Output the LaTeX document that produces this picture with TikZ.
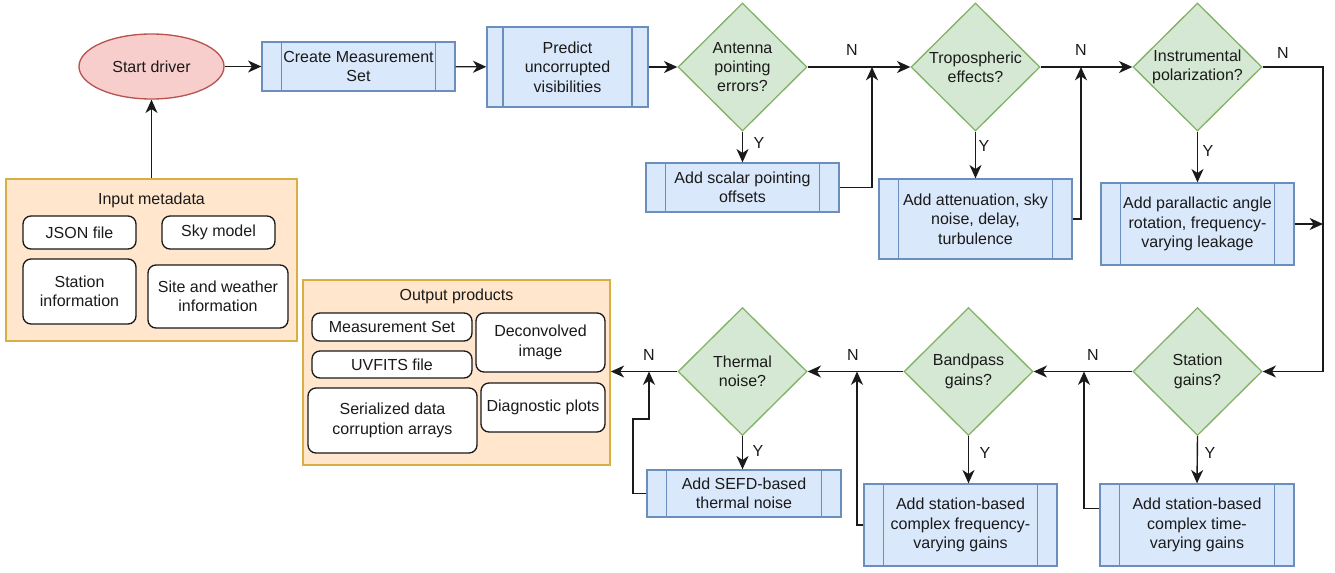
\documentclass[tikz,border=0pt]{standalone}
\usepackage{fontspec}
\setmainfont{Liberation Sans}
\usetikzlibrary{shapes.geometric,arrows.meta,calc}
\newdimen\pxu \pxu=0.75pt
\definecolor{procF}{HTML}{DAE8FC}
\definecolor{procS}{HTML}{6C8EBF}
\definecolor{diaF}{HTML}{D5E8D4}
\definecolor{diaS}{HTML}{82B366}
\definecolor{ellF}{HTML}{F8CECC}
\definecolor{ellS}{HTML}{B85450}
\definecolor{conF}{HTML}{FFE6CC}
\definecolor{conS}{HTML}{D9AE45}
\definecolor{lineC}{HTML}{1A1A1A}
\begin{document}
\begin{tikzpicture}[x=0.75pt,y=-0.75pt,
  every node/.style={font=\fontsize{12}{14.5}\selectfont, text=lineC},
  proc/.style={draw=procS, fill=procF, line width=1pt, inner sep=0pt, align=center,
    path picture={
      \coordinate (ppnw) at (path picture bounding box.north west);
      \coordinate (ppse) at (path picture bounding box.south east);
      \draw[draw=procS, line width=1pt]
        ($(ppnw)!0.1!(ppnw -| ppse)$) -- ($(ppnw |- ppse)!0.1!(ppse)$)
        ($(ppnw)!0.9!(ppnw -| ppse)$) -- ($(ppnw |- ppse)!0.9!(ppse)$);
    }},
  dia/.style={shape=diamond, draw=diaS, fill=diaF, line width=1pt, inner sep=0pt,
    minimum width=129\pxu, minimum height=128\pxu, align=center},
  ell/.style={shape=ellipse, draw=ellS, fill=ellF, line width=1pt, inner sep=0pt,
    minimum width=145\pxu, minimum height=65\pxu},
  cont/.style={draw=conS, fill=conF, line width=1.2pt, inner sep=0pt},
  item/.style={draw=lineC, fill=white, line width=1pt, rounded corners=6pt, inner sep=0pt, align=center},
  arr/.style={draw=lineC, line width=1.05pt, -{Stealth[length=10pt,width=9pt,inset=3pt]}},
  lab/.style={inner sep=0pt}
]
\useasboundingbox (0,0) rectangle (1335,572);

% containers
\node[cont, minimum width=291\pxu, minimum height=162\pxu] (inc) at (151.5,260) {};
\node[lab] (inct) at (151.5,200) {Input metadata};
\node[item, minimum width=113\pxu, minimum height=33\pxu] (json) at (79.5,232.5) {JSON file};
\node[item, minimum width=113\pxu, minimum height=33\pxu] (sky) at (218.5,232.5) {Sky model};
\node[item, minimum width=113\pxu, minimum height=65\pxu] (stinf) at (79.5,291.5) {Station\\information};
\node[item, minimum width=140\pxu, minimum height=63\pxu] (site) at (218,296.5) {Site and weather\\information};

\node[cont, minimum width=307\pxu, minimum height=185\pxu] (outc) at (456.5,372.5) {};
\node[lab] (outct) at (456.5,296) {Output products};
\node[item, minimum width=160\pxu, minimum height=28\pxu] (ms) at (392,327) {Measurement Set};
\node[item, minimum width=160\pxu, minimum height=27\pxu] (uvf) at (392,364.5) {UVFITS file};
\node[item, minimum width=169\pxu, minimum height=65\pxu] (ser) at (392.5,420.5) {Serialized data\\corruption arrays};
\node[item, minimum width=129\pxu, minimum height=59\pxu] (dec) at (540.5,342.5) {Deconvolved\\image};
\node[item, minimum width=124\pxu, minimum height=49\pxu] (diag) at (543,407.5) {Diagnostic plots};

% top row
\node[ell] (start) at (151.5,66.5) {Start driver};
\node[proc, minimum width=193\pxu, minimum height=49\pxu] (cms) at (358.5,66.5) {Create Measurement\\Set};
\node[proc, minimum width=161\pxu, minimum height=80\pxu] (pred) at (567.5,67) {Predict\\uncorrupted\\visibilities};
\node[dia] (d1) at (742.5,67) {Antenna\\pointing\\errors?};
\node[dia] (d2) at (975.5,67) {Tropospheric\\effects?};
\node[dia] (d3) at (1197.5,67) {Instrumental\\polarization?};
\node[proc, minimum width=193\pxu, minimum height=49\pxu] (p1) at (742.5,187.5) {Add scalar pointing\\offsets};
\node[proc, minimum width=193\pxu, minimum height=80\pxu] (p2) at (975.5,219) {Add attenuation, sky\\noise, delay,\\turbulence};
\node[proc, minimum width=193\pxu, minimum height=82\pxu] (p3) at (1197.5,224) {Add parallactic angle\\rotation, frequency-\\varying leakage};

% bottom row
\node[dia] (d4) at (1197.5,371.5) {Station\\gains?};
\node[dia] (d5) at (968.5,371.5) {Bandpass\\gains?};
\node[dia] (d6) at (742.5,371.5) {Thermal\\noise?};
\node[proc, minimum width=194\pxu, minimum height=82\pxu] (p4) at (1197,525) {Add station-based\\complex time-\\varying gains};
\node[proc, minimum width=193\pxu, minimum height=82\pxu] (p5) at (960.5,525) {Add station-based\\complex frequency-\\varying gains};
\node[proc, minimum width=194\pxu, minimum height=47\pxu] (p6) at (744,493.5) {Add SEFD-based\\thermal noise};

% junction coordinates
\coordinate (j1) at (872,67);
\coordinate (j2) at (1081,67);
\coordinate (rc) at (1323,224);
\coordinate (j4) at (1084,371.5);
\coordinate (j5) at (857,371.5);
\coordinate (j6) at (649,371.5);
\coordinate (k6) at (633,419);

% connectors top
\draw[arr] (inc.north) -- (start.south);
\draw[arr] (start) -- (cms);
\draw[arr] (cms) -- (pred);
\draw[arr] (pred.east) -- (d1.west);
\draw[arr] (d1.east) -- (d2.west);
\draw[arr] (d2.east) -- (d3.west);
\draw[arr] (d1.south) -- (p1.north);
\draw[arr] (d2.south) -- (p2.north);
\draw[arr] (d3.south) -- (p3.north);
\draw[arr] (p1.east) -| (j1);
\draw[arr] (p2.east) -| (j2);
\draw[arr] (d3.east) -| (rc) |- (d4.east);
\draw[arr] (p3.east) -- (rc);

% connectors bottom
\draw[arr] (d4.west) -- (d5.east);
\draw[arr] (d5.west) -- (d6.east);
\draw[arr] (d6.west) -- (d6.west -| outc.east);
\draw[arr] (d4.south) -- (p4.north);
\draw[arr] (d5.south) -- (d5.south |- p5.north);
\draw[arr] (d6.south) -- (d6.south |- p6.north);
\draw[arr] ($(p4.north west)!0.3!(p4.south west)$) -| (j4);
\draw[arr] (p5.west) -| (j5);
\draw[arr] (p6.west) -| (k6) -| (j6);

% Y / N labels
\node[lab] (n1) at (852,50) {N};
\node[lab] (n2) at (1081,50) {N};
\node[lab] (n3) at (1283,53) {N};
\node[lab] (n4) at (1093,355) {N};
\node[lab] (n5) at (853,355) {N};
\node[lab] (n6) at (649,355) {N};
\node[lab] (y1) at (759,143) {Y};
\node[lab] (y2) at (984,146) {Y};
\node[lab] (y3) at (1208,151) {Y};
\node[lab] (y4) at (1210,453) {Y};
\node[lab] (y5) at (985,453) {Y};
\node[lab] (y6) at (758,451) {Y};
\end{tikzpicture}
\end{document}
